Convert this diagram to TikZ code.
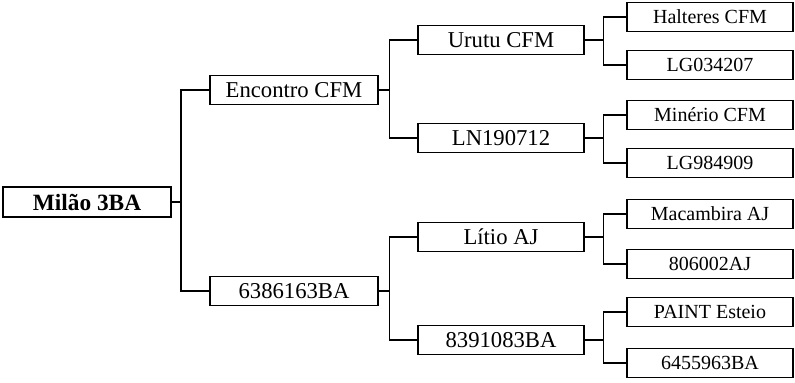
\documentclass[tikz,border=0pt]{standalone}
\usepackage{fontspec}
\setmainfont{Liberation Serif}
\tikzset{
  sirebox/.style={draw, line width=1.1pt, minimum width=126pt, minimum height=21.75pt,
    inner sep=0pt, font=\fontsize{17}{19}\selectfont},
  rootbox/.style={sirebox, line width=1.5pt, minimum height=22.5pt,
    font=\fontsize{17.5}{19}\selectfont\bfseries},
  leafbox/.style={sirebox, minimum width=124.5pt, font=\fontsize{15}{17}\selectfont},
  link/.style={line width=0.8pt}
}
\newcommand{\drawlink}[3]{\draw[link] (#1.east) -- ++(#3,0) |- (#2.west);}

\begin{document}
\begin{tikzpicture}[x=0.75pt,y=-0.75pt]
\useasboundingbox (0,0) rectangle (795,382);
\node[rootbox] (milao) at (87,202) {Milão 3BA};
\node[sirebox] (encontro) at (294,90) {Encontro CFM};
\node[sirebox] (bA6386) at (294,291) {6386163BA};
\node[sirebox, minimum width=124.5pt] (urutu) at (501,40) {Urutu CFM};
\node[sirebox, minimum width=124.5pt] (ln190712) at (501,138) {LN190712};
\node[sirebox, minimum width=124.5pt] (litio) at (501,237) {Lítio AJ};
\node[sirebox, minimum width=124.5pt] (bA8391) at (501,340) {8391083BA};
\foreach \name/\y/\txt in {halteres/17/Halteres CFM, lg034207/65/LG034207,
    minerio/115/Minério CFM, lg984909/163/LG984909,
    macambira/214/Macambira AJ, aj806002/264/806002AJ,
    paint/312/PAINT Esteio, bA6455/363/6455963BA}{
  \node[leafbox] (\name) at (710,\y) {\txt};
}
\drawlink{milao}{encontro}{9}\drawlink{milao}{bA6386}{9}
\drawlink{encontro}{urutu}{11}\drawlink{encontro}{ln190712}{11}
\drawlink{bA6386}{litio}{11}\drawlink{bA6386}{bA8391}{11}
\drawlink{urutu}{halteres}{19}\drawlink{urutu}{lg034207}{19}
\drawlink{ln190712}{minerio}{19}\drawlink{ln190712}{lg984909}{19}
\drawlink{litio}{macambira}{19}\drawlink{litio}{aj806002}{19}
\drawlink{bA8391}{paint}{19}\drawlink{bA8391}{bA6455}{19}
\end{tikzpicture}
\end{document}
